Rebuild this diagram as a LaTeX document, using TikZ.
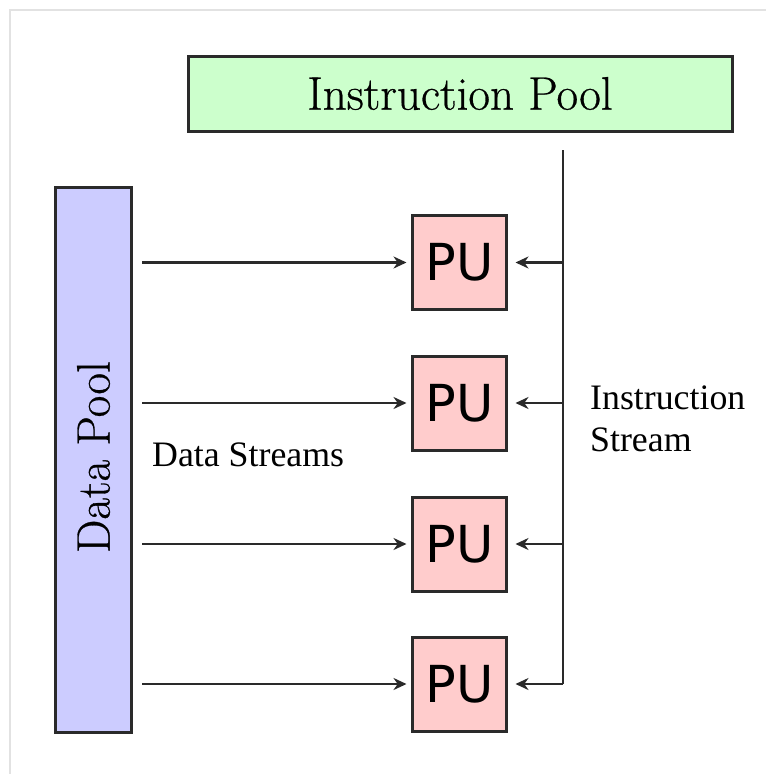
\documentclass[tikz,border=0pt]{standalone}
\usepackage{fontspec}
\newfontfamily\labelfont{Liberation Serif}
\newfontfamily\poolfont{Latin Modern Roman}[FakeBold=0.6]
\newfontfamily\pufont{DejaVu Sans}
\usetikzlibrary{arrows.meta}
\definecolor{poolgreen}{HTML}{CCFFCC}
\definecolor{poolblue}{HTML}{CCCCFF}
\definecolor{pupink}{HTML}{FFCCCC}
\definecolor{edge}{HTML}{2A2A2A}
\definecolor{frame}{HTML}{E2E2E2}
\tikzset{
  poolbox/.style={draw=edge, line width=3pt, inner sep=0pt, outer sep=0pt},
  pubox/.style={draw=edge, line width=3pt, fill=pupink, minimum width=94pt,
    minimum height=94pt, inner sep=0pt, outer sep=0pt,
    font=\pufont\fontsize{51}{51}\selectfont},
  flow/.style={draw=edge, line width=2.8pt, -{Stealth[length=13pt,width=12pt]}},
  wire/.style={draw=edge, line width=2.8pt},
  streamlabel/.style={font=\labelfont\fontsize{35.8}{42}\selectfont, inner sep=0pt,
    align=left},
}
\begin{document}
\begin{tikzpicture}[x=1pt,y=-1pt]
\useasboundingbox (0,0) rectangle (766,774);
\fill[white] (0,0) rectangle (766,774);
% faint outer frame
\draw[frame, line width=1.6pt] (10,774) -- (10,10) -- (766,10);

% pools
\node[poolbox, fill=poolgreen, minimum width=544pt, minimum height=75pt,
  font=\poolfont\fontsize{47}{47}\selectfont] (ipool) at (460,93.5) {Instruction Pool};
\node[poolbox, fill=poolblue, minimum width=76pt, minimum height=545pt] (dpool) at (93.5,459.5) {};
\node[rotate=90, font=\poolfont\fontsize{47}{47}\selectfont, inner sep=0pt] (dpooltext) at (93.5,457) {Data Pool};

% processing units
\foreach \i/\y in {1/262.5, 2/403, 3/544, 4/684}{
  \node[pubox] (pu\i) at (459.5,\y) {PU};
  \coordinate (src\i) at (142,\y);
  \coordinate (tap\i) at (563,\y);
}

% instruction bus
\coordinate (bustop) at (563,150);
\draw[wire] (bustop) -- (tap4);

% data and instruction streams
\foreach \i in {1,2,3,4}{
  \draw[flow] (src\i) -- ([xshift=-6pt]pu\i.west);
  \draw[flow] (tap\i) -- ([xshift=9pt]pu\i.east);
}

% labels
\node[streamlabel, anchor=west] (dslabel) at (152,455) {Data Streams};
\node[streamlabel, anchor=west] (islabel) at (590,419) {Instruction\\Stream};
\end{tikzpicture}
\end{document}
